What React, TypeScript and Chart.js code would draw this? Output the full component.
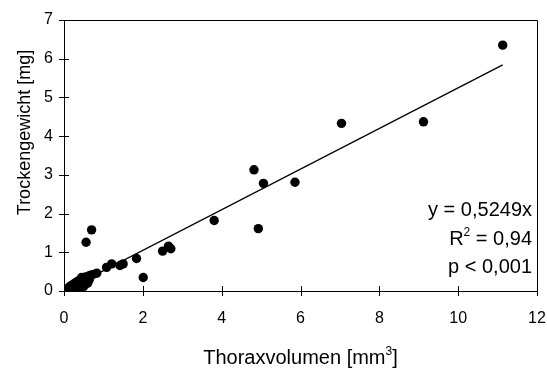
import React, { useEffect, useRef } from "react";
import { Chart, registerables } from "chart.js";

Chart.register(...registerables);

// Thoraxvolumen [mm³]
const thoraxVolume = [
  11.13, 9.12, 7.04, 5.86, 4.82, 5.06, 4.93, 3.81, 2.5, 2.65, 2.71, 2.01, 1.84,
  0.7, 0.56, 1.42, 1.5, 1.21, 1.08, 0.83, 0.72, 0.62,
  0.02, 0.04, 0.06, 0.08, 0.1, 0.12, 0.14, 0.16, 0.18, 0.2, 0.22, 0.24, 0.26,
  0.28, 0.3, 0.32, 0.35, 0.37, 0.4, 0.42, 0.45, 0.47, 0.5, 0.52, 0.55, 0.58,
  0.6, 0.64, 0.45, 0.4, 0.35, 0.3, 0.5, 0.05, 0.1,
  0.15, 0.2, 0.25, 0.3, 0.35, 0.45, 0.55, 0.6, 0.5, 0.4, 0.66,
];
// Trockengewicht [mg]
const dryWeight = [
  6.35, 4.37, 4.33, 2.81, 3.13, 2.78, 1.61, 1.82, 1.03, 1.16, 1.09, 0.35, 0.84,
  1.58, 1.26, 0.66, 0.7, 0.7, 0.61, 0.46, 0.42, 0.38,
  0.01, 0.03, 0.02, 0.05, 0.04, 0.07, 0.05, 0.09, 0.07, 0.1, 0.12, 0.09, 0.14,
  0.11, 0.16, 0.13, 0.18, 0.15, 0.21, 0.17, 0.24, 0.19, 0.27, 0.22, 0.3, 0.25,
  0.33, 0.29, 0.31, 0.28, 0.12, 0.08, 0.18, 0.0, 0.02,
  0.12, 0.15, 0.18, 0.22, 0.25, 0.35, 0.36, 0.2, 0.12, 0.1, 0.4,
];

const slope = 0.5249;
const fitRangeX = [0, 11.13];

const xTicks = [0, 2, 4, 6, 8, 10, 12];
const yTicks = [0, 1, 2, 3, 4, 5, 6, 7];

const xTitleMain = "Thoraxvolumen [mm";
const xTitleSup = "3";
const xTitleEnd = "]";
const yTitle = "Trockengewicht [mg]";
const eqLine = "y = 0,5249x";
const r2Main = "R";
const r2Sup = "2";
const r2End = " = 0,94";
const pLine = "p < 0,001";

const FONT = "'Liberation Sans', Arial, Helvetica, sans-serif";

const framePlugin = {
  id: "framePlugin",
  afterDraw(chart: any) {
    const { ctx, chartArea } = chart;
    const { left, right, top, bottom } = chartArea;
    const xs = chart.scales.x;
    const ys = chart.scales.y;
    ctx.save();
    ctx.strokeStyle = "#000";
    ctx.lineWidth = 1;
    ctx.beginPath();
    ctx.rect(Math.round(left) + 0.5, Math.round(top) + 0.5, Math.round(right - left), Math.round(bottom - top));
    ctx.stroke();
    // crossing ticks
    ctx.beginPath();
    xTicks.forEach((v) => {
      const px = Math.round(xs.getPixelForValue(v)) + 0.5;
      ctx.moveTo(px, bottom - 5);
      ctx.lineTo(px, bottom + 5);
    });
    yTicks.forEach((v) => {
      const py = Math.round(ys.getPixelForValue(v)) + 0.5;
      ctx.moveTo(left - 5, py);
      ctx.lineTo(left + 5, py);
    });
    ctx.stroke();

    ctx.fillStyle = "#000";
    ctx.textBaseline = "alphabetic";

    // x title with superscript
    const big = `20px ${FONT}`;
    const small = `12px ${FONT}`;
    ctx.font = big;
    const w1 = ctx.measureText(xTitleMain).width;
    const w3 = ctx.measureText(xTitleEnd).width;
    ctx.font = small;
    const w2 = ctx.measureText(xTitleSup).width;
    const total = w1 + w2 + w3;
    let tx = (left + right) / 2 - total / 2;
    const tyBase = 364;
    ctx.textAlign = "left";
    ctx.font = big;
    ctx.fillText(xTitleMain, tx, tyBase);
    tx += w1;
    ctx.font = small;
    ctx.fillText(xTitleSup, tx, tyBase - 9);
    tx += w2;
    ctx.font = big;
    ctx.fillText(xTitleEnd, tx, tyBase);

    // y title rotated
    ctx.save();
    ctx.translate(30, 132.5);
    ctx.rotate(-Math.PI / 2);
    ctx.font = `18px ${FONT}`;
    ctx.textAlign = "center";
    ctx.fillText(yTitle, 0, 0);
    ctx.restore();

    // annotation
    const annFont = `20px ${FONT}`;
    const ax = right - 5;
    ctx.font = annFont;
    ctx.textAlign = "right";
    ctx.fillText(eqLine, ax, top + 196);
    ctx.fillText(pLine, ax, top + 253);
    // R² line
    const wEnd = ctx.measureText(r2End).width;
    ctx.fillText(r2End, ax, top + 225);
    ctx.font = `12px ${FONT}`;
    const wSup = ctx.measureText(r2Sup).width;
    ctx.fillText(r2Sup, ax - wEnd, top + 225 - 9);
    ctx.font = annFont;
    ctx.fillText(r2Main, ax - wEnd - wSup, top + 225);
    ctx.restore();
  },
};

export default function App() {
  const ref = useRef<HTMLCanvasElement | null>(null);

  useEffect(() => {
    document.body.style.margin = "0";
    const canvas = ref.current;
    if (!canvas) return;
    const points = thoraxVolume.map((x, i) => ({ x, y: dryWeight[i] }));
    const fit = fitRangeX.map((x) => ({ x, y: slope * x }));
    const chart = new Chart(canvas, {
      type: "scatter",
      data: {
        datasets: [
          {
            type: "line",
            data: fit,
            borderColor: "#000",
            borderWidth: 1.3,
            pointRadius: 0,
            fill: false,
          } as any,
          {
            data: points,
            backgroundColor: "#000",
            borderColor: "#000",
            borderWidth: 0,
            pointRadius: 4.7,
            pointHoverRadius: 4.7,
          },
        ],
      },
      options: {
        responsive: false,
        maintainAspectRatio: false,
        animation: false,
        events: [],
        layout: { padding: { top: 20, right: 10, left: 0, bottom: 0 } },
        plugins: {
          legend: { display: false },
          tooltip: { enabled: false },
          title: { display: false },
        },
        scales: {
          x: {
            type: "linear",
            min: 0,
            max: 12,
            afterBuildTicks: (s: any) => {
              s.ticks = xTicks.map((v) => ({ value: v }));
            },
            afterFit: (s: any) => {
              s.height = 79;
              s.paddingLeft = 0;
              s.paddingRight = 0;
            },
            grid: { display: false, drawTicks: false },
            border: { display: false },
            ticks: {
              padding: 18,
              color: "#000",
              font: { family: FONT, size: 16 },
              maxRotation: 0,
              autoSkip: false,
            },
          },
          y: {
            type: "linear",
            min: 0,
            max: 7,
            afterBuildTicks: (s: any) => {
              s.ticks = yTicks.map((v) => ({ value: v }));
            },
            afterFit: (s: any) => {
              s.width = 64;
              s.paddingTop = 0;
              s.paddingBottom = 0;
            },
            grid: { display: false, drawTicks: false },
            border: { display: false },
            ticks: {
              padding: 11,
              color: "#000",
              font: { family: FONT, size: 16 },
              autoSkip: false,
            },
          },
        },
      },
      plugins: [framePlugin],
    });
    return () => chart.destroy();
  }, []);

  return (
    <div style={{ position: "absolute", left: 0, top: 0, width: 547, height: 370, background: "#fff" }}>
      <canvas ref={ref} width={547} height={370} style={{ width: 547, height: 370, display: "block" }} />
    </div>
  );
}
